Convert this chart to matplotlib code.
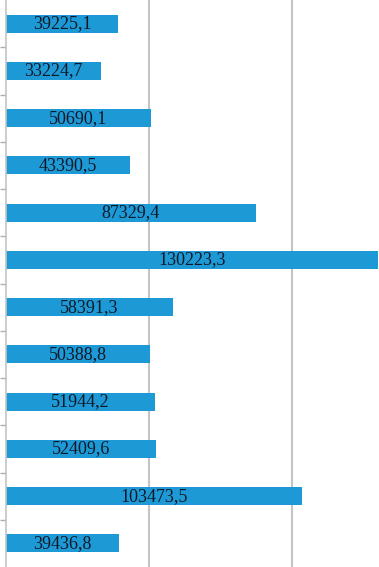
import numpy as np
import matplotlib.pyplot as plt

# values, top to bottom
values = [39225.1, 33224.7, 50690.1, 43390.5, 87329.4, 130223.3,
          58391.3, 50388.8, 51944.2, 52409.6, 103473.5, 39436.8]
grid_at = [50000, 100000]

plt.rcParams['font.family'] = ['Liberation Serif', 'DejaVu Serif']

fig = plt.figure(figsize=(3.79, 5.67), dpi=100)
ax = fig.add_axes([6 / 379, 0, 1 - 6 / 379, 1])

pos = np.arange(len(values))
bars = ax.barh(pos, values, height=0.38, color="#1d9ad6", zorder=2)

for b, v in zip(bars, values):
    ax.text(b.get_x() + b.get_width() / 2, b.get_y() + b.get_height() / 2,
            f"{v:.1f}".replace(".", ","), ha="center", va="center",
            fontsize=13, color="#101828", zorder=3)

for g in grid_at:
    ax.axvline(g, color="#c4c4c4", lw=1.5, zorder=1)

ax.set_xlim(0, 130400)
ax.set_ylim(len(values) - 0.5, -0.5)

ax.set_xticks([])
ax.set_yticks(pos[:-1] + 0.5)
ax.set_yticklabels([])
ax.tick_params(axis="y", length=4, width=1, color="#b0b0b0", direction="out")

for s in ["top", "right", "bottom"]:
    ax.spines[s].set_visible(False)
ax.spines["left"].set_color("#c4c4c4")
ax.spines["left"].set_linewidth(1.2)

fig.savefig("out.png", dpi=100)
